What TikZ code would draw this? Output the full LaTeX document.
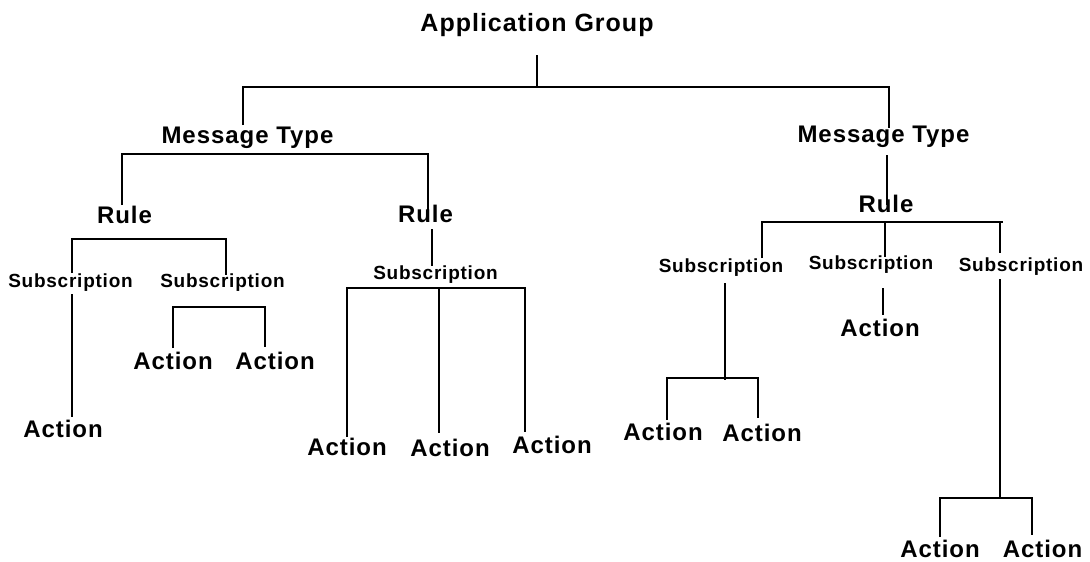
\documentclass[tikz,border=0pt]{standalone}
\usepackage{fontspec}
\newfontfamily\labfont[LetterSpace=4.0]{Liberation Sans}
\begin{document}
\begin{tikzpicture}[x=1pt,y=-1pt,
  lbl/.style={anchor=base,inner sep=0pt,text=black},
  big/.style={lbl,font={\labfont\bfseries\fontsize{24}{28}\selectfont}},
  top/.style={lbl,font={\labfont\bfseries\fontsize{25}{29}\selectfont}},
  sub/.style={lbl,font={\labfont\bfseries\fontsize{19}{23}\selectfont}},
  conn/.style={draw=black,line width=2.2pt,line cap=butt,line join=miter}]
\useasboundingbox (0,0) rectangle (1090,562);
% labels
\node[top] (ag) at (537,31) {Application Group};
\node[big] (mtl) at (247.5,143) {Message Type};
\node[big] (mtr) at (883.5,142) {Message Type};
\node[big] (rl) at (124.5,223) {Rule};
\node[big] (rm) at (425.5,222) {Rule};
\node[big] (rr) at (886,212) {Rule};
\node[sub] (sl1) at (70.5,287) {Subscription};
\node[sub] (sl2) at (222.5,287) {Subscription};
\node[sub] (sm) at (435.5,279) {Subscription};
\node[sub] (sr1) at (721,272) {Subscription};
\node[sub] (sr2) at (871,269) {Subscription};
\node[sub] (sr3) at (1021,271) {Subscription};
\node[big] (al1) at (63,437) {Action};
\node[big] (al2a) at (173,369) {Action};
\node[big] (al2b) at (275,369) {Action};
\node[big] (am1) at (347,455) {Action};
\node[big] (am2) at (450,456) {Action};
\node[big] (am3) at (552,453) {Action};
\node[big] (ar1a) at (663,440) {Action};
\node[big] (ar1b) at (762,441) {Action};
\node[big] (ar2) at (880,336) {Action};
\node[big] (ar3a) at (940,557) {Action};
\node[big] (ar3b) at (1042.5,557) {Action};
% junction coordinates
\coordinate (agS) at (537,55);   \coordinate (agJ) at (537,87);
\coordinate (agL) at (243,87);   \coordinate (agR) at (889,87);
\coordinate (mtlT) at (243,125); \coordinate (mtrT) at (889,128);
\coordinate (mtlL) at (122,154); \coordinate (mtlR) at (428,154);
\coordinate (rlT) at (122,205);  \coordinate (rmT) at (428,213);
\coordinate (rmS) at (432,229);  \coordinate (smT) at (432,266);
\coordinate (rlL) at (72,239);   \coordinate (rlR) at (226,239);
\coordinate (sl1T) at (72,273);  \coordinate (sl2T) at (226,275);
\coordinate (sl1S) at (72,294);  \coordinate (al1T) at (72,417);
\coordinate (sl2L) at (173,307); \coordinate (sl2R) at (265,307);
\coordinate (al2aT) at (173,348); \coordinate (al2bT) at (265,347);
\coordinate (smL) at (347,288);  \coordinate (smM) at (439,288); \coordinate (smR) at (525,288);
\coordinate (am1T) at (347,437); \coordinate (am2T) at (439,433); \coordinate (am3T) at (525,432);
\coordinate (mtrS) at (887,155); \coordinate (rrT) at (887,205);
\coordinate (rrL) at (762,222);  \coordinate (rrM) at (885,222); \coordinate (rrR) at (1003,222);
\coordinate (rrR3) at (1000,222);
\coordinate (sr1T) at (762,258); \coordinate (sr2T) at (885,257); \coordinate (sr3T) at (1000,253);
\coordinate (sr1S) at (725,283); \coordinate (sr1J) at (725,380);
\coordinate (sr1L) at (667,378); \coordinate (sr1R) at (758,378);
\coordinate (ar1aT) at (667,420); \coordinate (ar1bT) at (758,418);
\coordinate (sr2S) at (883,288); \coordinate (ar2T) at (883,315);
\coordinate (sr3S) at (1000,279); \coordinate (sr3J) at (1000,498);
\coordinate (sr3L) at (940,498); \coordinate (sr3R) at (1032,498);
\coordinate (ar3aT) at (940,537); \coordinate (ar3bT) at (1032,535);
% connectors
\draw[conn] (agS) -- (agJ);
\draw[conn] (mtlT) -- (agL) -- (agR) -- (mtrT);
\draw[conn] (rlT) -- (mtlL) -- (mtlR) -- (rmT);
\draw[conn] (rmS) -- (smT);
\draw[conn] (sl1T) -- (rlL) -- (rlR) -- (sl2T);
\draw[conn] (sl1S) -- (al1T);
\draw[conn] (al2aT) -- (sl2L) -- (sl2R) -- (al2bT);
\draw[conn] (am1T) -- (smL) -- (smR) -- (am3T);
\draw[conn] (smM) -- (am2T);
\draw[conn] (mtrS) -- (rrT);
\draw[conn] (sr1T) -- (rrL) -- (rrR);
\draw[conn] (rrM) -- (sr2T);
\draw[conn] (rrR3) -- (sr3T);
\draw[conn] (sr1S) -- (sr1J);
\draw[conn] (ar1aT) -- (sr1L) -- (sr1R) -- (ar1bT);
\draw[conn] (sr2S) -- (ar2T);
\draw[conn] (sr3S) -- (sr3J);
\draw[conn] (ar3aT) -- (sr3L) -- (sr3R) -- (ar3bT);
\end{tikzpicture}
\end{document}
